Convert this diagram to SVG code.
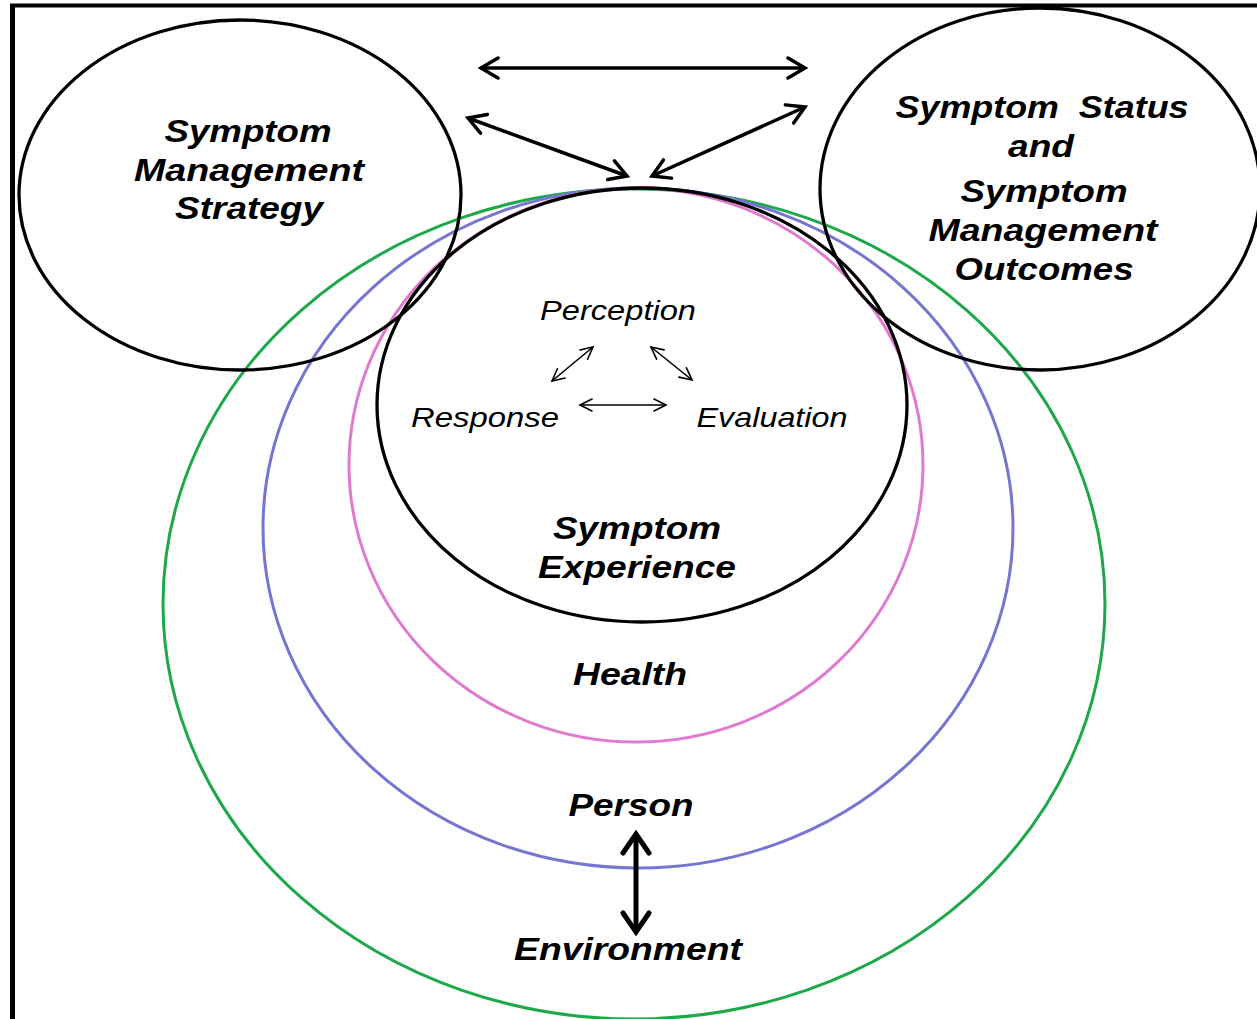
<svg xmlns="http://www.w3.org/2000/svg" width="1257" height="1019" viewBox="0 0 1257 1019">
<style>
.b{font-family:"Liberation Sans",Arial,sans-serif;font-weight:bold;font-style:italic;font-size:32px;fill:#000}
.r{font-family:"Liberation Sans",Arial,sans-serif;font-style:italic;font-size:28px;fill:#000}
.e{fill:none;stroke-width:3}
.k{stroke:#000;stroke-width:3.3}
</style>
<defs>
<marker id="hb" markerUnits="userSpaceOnUse" viewBox="-20 -12 24 24" refX="0" refY="0" markerWidth="24" markerHeight="24" orient="auto-start-reverse">
<path d="M-17,-10 L0,0 L-17,10" fill="none" stroke="#000" stroke-width="3.5" stroke-linecap="round" stroke-linejoin="miter"/>
</marker>
<marker id="hs" markerUnits="userSpaceOnUse" viewBox="-14 -8 16 16" refX="0" refY="0" markerWidth="16" markerHeight="16" orient="auto-start-reverse">
<path d="M-12,-6 L0,0 L-12,6" fill="none" stroke="#000" stroke-width="1.6" stroke-linecap="round"/>
</marker>
<marker id="hx" markerUnits="userSpaceOnUse" viewBox="-22 -16 26 32" refX="0" refY="0" markerWidth="26" markerHeight="32" orient="auto-start-reverse">
<path d="M-19,-13 L0,0 L-19,13" fill="none" stroke="#000" stroke-width="5" stroke-linecap="round"/>
</marker>
</defs>
<rect width="1257" height="1019" fill="#fff"/>
<g id="frame" stroke="#000" fill="none">
<line x1="10" y1="5.5" x2="1257" y2="5.5" stroke-width="4"/>
<line x1="12.5" y1="4" x2="12.5" y2="1019" stroke-width="5"/>
</g>
<g id="environment">
<ellipse class="e" cx="634" cy="604" rx="471" ry="415" stroke="#1ea84a"/>
<text class="b" x="628" y="960" text-anchor="middle" textLength="228" lengthAdjust="spacingAndGlyphs">Environment</text>
</g>
<g id="person">
<ellipse class="e" cx="638" cy="528" rx="375" ry="340" stroke="#7676d2"/>
<text class="b" x="631" y="816" text-anchor="middle" textLength="125" lengthAdjust="spacingAndGlyphs">Person</text>
</g>
<g id="health">
<ellipse class="e" cx="636" cy="465" rx="287" ry="277" stroke="#e07ad0"/>
<text class="b" x="630" y="685" text-anchor="middle" textLength="114" lengthAdjust="spacingAndGlyphs">Health</text>
</g>
<g id="symptom-experience">
<ellipse class="e k" cx="642" cy="405" rx="265" ry="217"/>
<text class="b" x="637" y="539" text-anchor="middle" textLength="168" lengthAdjust="spacingAndGlyphs">Symptom</text>
<text class="b" x="637" y="578" text-anchor="middle" textLength="198" lengthAdjust="spacingAndGlyphs">Experience</text>
</g>
<g id="perception"><text class="r" x="618" y="320" text-anchor="middle" textLength="156" lengthAdjust="spacingAndGlyphs">Perception</text></g>
<g id="response"><text class="r" x="485" y="427" text-anchor="middle" textLength="148" lengthAdjust="spacingAndGlyphs">Response</text></g>
<g id="evaluation"><text class="r" x="772" y="427" text-anchor="middle" textLength="151" lengthAdjust="spacingAndGlyphs">Evaluation</text></g>
<g id="strategy">
<ellipse class="e k" cx="240" cy="195" rx="221" ry="175"/>
<text class="b" x="248" y="142" text-anchor="middle" textLength="167" lengthAdjust="spacingAndGlyphs">Symptom</text>
<text class="b" x="249" y="181" text-anchor="middle" textLength="230" lengthAdjust="spacingAndGlyphs">Management</text>
<text class="b" x="249" y="219" text-anchor="middle" textLength="148" lengthAdjust="spacingAndGlyphs">Strategy</text>
</g>
<g id="outcomes">
<ellipse class="e k" cx="1040" cy="189" rx="220" ry="181"/>
<text class="b" x="1042" y="118" text-anchor="middle" textLength="293" lengthAdjust="spacingAndGlyphs" xml:space="preserve">Symptom  Status</text>
<text class="b" x="1041" y="157" text-anchor="middle" textLength="66" lengthAdjust="spacingAndGlyphs">and</text>
<text class="b" x="1044" y="202" text-anchor="middle" textLength="167" lengthAdjust="spacingAndGlyphs">Symptom</text>
<text class="b" x="1043" y="241" text-anchor="middle" textLength="229" lengthAdjust="spacingAndGlyphs">Management</text>
<text class="b" x="1044" y="280" text-anchor="middle" textLength="179" lengthAdjust="spacingAndGlyphs">Outcomes</text>
</g>
<g id="connectors" fill="none" stroke="#000">
<line x1="481" y1="68" x2="805" y2="68" stroke-width="3.5" marker-start="url(#hb)" marker-end="url(#hb)"/>
<line x1="468" y1="118" x2="627" y2="176" stroke-width="3.5" marker-start="url(#hb)" marker-end="url(#hb)"/>
<line x1="805" y1="107" x2="652" y2="176" stroke-width="3.5" marker-start="url(#hb)" marker-end="url(#hb)"/>
<line x1="552" y1="381" x2="593" y2="347" stroke-width="1.6" marker-start="url(#hs)" marker-end="url(#hs)"/>
<line x1="651" y1="347" x2="692" y2="380" stroke-width="1.6" marker-start="url(#hs)" marker-end="url(#hs)"/>
<line x1="580" y1="405" x2="666" y2="405" stroke-width="1.6" marker-start="url(#hs)" marker-end="url(#hs)"/>
<line x1="636" y1="834" x2="636" y2="932" stroke-width="5" marker-start="url(#hx)" marker-end="url(#hx)"/>
</g>
</svg>
